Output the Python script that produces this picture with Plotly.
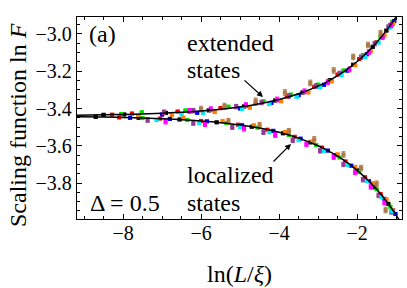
import plotly.graph_objects as go

# ---------------- data ----------------
series_names = ["black", "red", "green", "blue", "orange", "purple", "cyan", "magenta", "brown"]

# extended-states branch (upper)
ext_x_black = [-8.50, -7.97, -6.90, -5.80, -4.90, -4.10, -3.40, -2.70, -2.10, -1.60, -1.25]
ext_y_black = [-3.434, -3.432, -3.424, -3.410, -3.389, -3.357, -3.314, -3.248, -3.165, -3.069, -2.982]
ext_x_red = [-8.28, -7.77, -6.60, -5.50, -4.60, -3.80, -3.10, -2.50, -1.95, -1.50, -1.15]
ext_y_red = [-3.433, -3.427, -3.416, -3.398, -3.373, -3.335, -3.284, -3.218, -3.135, -3.044, -2.952]
ext_x_green = [-8.05, -7.52, -6.40, -5.30, -4.40, -3.70, -3.00, -2.35, -1.85, -1.40, -1.10]
ext_y_green = [-3.430, -3.420, -3.410, -3.390, -3.361, -3.325, -3.272, -3.196, -3.113, -3.015, -2.935]
ext_x_blue = [-7.00, -6.10, -5.00, -4.20, -3.50, -2.85, -2.25, -1.75, -1.35, -1.05]
ext_y_blue = [-3.433, -3.423, -3.400, -3.370, -3.329, -3.273, -3.197, -3.109, -3.016, -2.931]
ext_x_orange = [-6.75, -5.65, -4.75, -3.95, -3.25, -2.65, -2.05, -1.65, -1.30, -1.08]
ext_y_orange = [-3.435, -3.419, -3.396, -3.361, -3.314, -3.254, -3.168, -3.092, -3.007, -2.945]
ext_x_purple = [-6.95, -6.20, -5.10, -4.45, -3.75, -3.05, -2.45, -1.90, -1.55, -1.20]
ext_y_purple = [-3.420, -3.412, -3.390, -3.368, -3.333, -3.279, -3.212, -3.125, -3.052, -2.963]
ext_x_cyan = [-6.50, -5.95, -4.95, -4.25, -3.55, -2.95, -2.40, -1.80, -1.45, -1.15]
ext_y_cyan = [-3.432, -3.425, -3.402, -3.376, -3.337, -3.287, -3.222, -3.123, -3.046, -2.965]
ext_x_magenta = [-6.30, -5.75, -4.85, -4.05, -3.35, -2.75, -2.20, -1.70, -1.35, -1.12]
ext_y_magenta = [-3.413, -3.404, -3.382, -3.352, -3.308, -3.258, -3.190, -3.098, -3.017, -2.952]
ext_x_brown = [-6.00, -5.40, -4.60, -3.85, -3.20, -2.60, -2.10, -1.72, -1.40]
ext_y_brown = [-3.403, -3.387, -3.359, -3.314, -3.263, -3.196, -3.123, -3.059, -2.996]

# localized-states branch (lower)
loc_x_black = [-8.70, -7.60, -6.55, -5.60, -4.70, -3.90, -3.20, -2.55, -2.00, -1.55, -1.20]
loc_y_black = [-3.445, -3.450, -3.459, -3.474, -3.498, -3.533, -3.582, -3.650, -3.732, -3.823, -3.912]
loc_x_red = [-8.10, -7.05, -6.00, -5.05, -4.30, -3.60, -2.90, -2.30, -1.80, -1.40, -1.08]
loc_y_red = [-3.448, -3.454, -3.467, -3.487, -3.514, -3.552, -3.610, -3.684, -3.769, -3.859, -3.947]
loc_x_green = [-7.50, -6.35, -5.35, -4.55, -3.75, -3.05, -2.45, -1.95, -1.50, -1.15]
loc_y_green = [-3.451, -3.462, -3.479, -3.503, -3.542, -3.596, -3.663, -3.741, -3.834, -3.927]
loc_x_blue = [-7.82, -6.80, -5.85, -4.95, -4.15, -3.45, -2.75, -2.15, -1.70, -1.30, -1.02]
loc_y_blue = [-3.450, -3.456, -3.469, -3.490, -3.520, -3.562, -3.626, -3.707, -3.790, -3.885, -3.966]
loc_x_orange = [-7.61, -6.45, -5.45, -4.65, -3.85, -3.15, -2.50, -2.05, -1.60, -1.25]
loc_y_orange = [-3.442, -3.450, -3.467, -3.490, -3.526, -3.577, -3.646, -3.714, -3.801, -3.888]
loc_x_purple = [-7.37, -6.20, -5.20, -4.40, -3.65, -2.95, -2.35, -1.85, -1.45, -1.12]
loc_y_purple = [-3.462, -3.478, -3.500, -3.527, -3.570, -3.627, -3.700, -3.782, -3.866, -3.955]
loc_x_cyan = [-7.14, -6.05, -5.00, -4.25, -3.50, -2.85, -2.25, -1.75, -1.38, -1.10]
loc_y_cyan = [-3.462, -3.477, -3.500, -3.527, -3.570, -3.627, -3.703, -3.790, -3.876, -3.952]
loc_x_magenta = [-6.91, -5.90, -4.90, -4.10, -3.30, -2.60, -2.05, -1.65, -1.30]
loc_y_magenta = [-3.470, -3.484, -3.508, -3.542, -3.592, -3.660, -3.742, -3.820, -3.905]
loc_x_brown = [-5.30, -4.50, -3.75, -3.10, -2.35, -1.90, -1.50, -1.27]
loc_y_brown = [-3.468, -3.490, -3.522, -3.566, -3.647, -3.720, -3.804, -3.945]

# error bar half-widths per series
series_err = [0.003, 0.003, 0.003, 0.003, 0.004, 0.012, 0.005, 0.013, 0.015]

# fitted scaling curves
curve_x = [-9.2, -8.5, -8.0, -7.5, -7.0, -6.5, -6.0, -5.5, -5.0, -4.5, -4.0, -3.5,
           -3.0, -2.75, -2.5, -2.25, -2.0, -1.75, -1.5, -1.25, -1.0, -0.85]
curve_ext = [-3.436, -3.434, -3.432, -3.429, -3.425, -3.420, -3.413, -3.404, -3.392, -3.375,
             -3.352, -3.321, -3.280, -3.254, -3.224, -3.189, -3.148, -3.101, -3.046, -2.982,
             -2.908, -2.858]
curve_loc = [-3.444, -3.446, -3.448, -3.451, -3.455, -3.460, -3.467, -3.476, -3.488, -3.505,
             -3.528, -3.559, -3.600, -3.626, -3.656, -3.691, -3.732, -3.779, -3.834, -3.898,
             -3.972, -4.022]

x_ticks = [-8, -6, -4, -2]
y_ticks = [-3.0, -3.2, -3.4, -3.6, -3.8]

# ---------------- styles ----------------
colors = {"black": "#000000", "red": "#ff0000", "green": "#00e000", "blue": "#0000ff",
          "orange": "#ff8000", "purple": "#943a94", "cyan": "#00eaff",
          "magenta": "#ff00ff", "brown": "#b07a45"}
FONT = "Liberation Serif"

W, H = 407, 288
L, R, T, B = 77, 5, 17, 69
pw, ph = W - L - R, H - T - B


def px(xp):
    return (xp - L) / pw


def py(yp):
    return (H - B - yp) / ph


g = globals()
fig = go.Figure()
for branch in ["ext", "loc"]:
    for i, name in enumerate(series_names):
        xs = g[f"{branch}_x_{name}"]
        ys = g[f"{branch}_y_{name}"]
        fig.add_trace(go.Scatter(
            x=xs, y=ys, mode="markers",
            marker=dict(symbol="square", size=4.2, color=colors[name], line=dict(width=0)),
            error_y=dict(type="constant", value=series_err[i], color=colors[name],
                         thickness=1, width=2),
            showlegend=False, hoverinfo="skip"))

for cy in (curve_ext, curve_loc):
    fig.add_trace(go.Scatter(x=curve_x, y=cy, mode="lines", line=dict(color="black", width=1.5, shape="spline"),
                             showlegend=False, hoverinfo="skip"))

axis_common = dict(showline=True, linecolor="black", linewidth=1.3, mirror="allticks",
                   ticks="inside", ticklen=5, tickwidth=1, tickcolor="black",
                   showgrid=False, zeroline=False, automargin=False,
                   tickfont=dict(family=FONT, size=20, color="black"))

fig.update_xaxes(range=[-9.18, -0.85], tickmode="array", tickvals=x_ticks, ticklabelstandoff=-4,
                 minor=dict(dtick=0.5, tick0=0, ticks="inside", ticklen=3, tickcolor="black", showgrid=False),
                 **axis_common)
fig.update_yaxes(range=[-3.993, -2.909], tickmode="array", tickvals=y_ticks, tickformat=".1f",
                 minor=dict(dtick=0.05, tick0=-3.0, ticks="inside", ticklen=3, tickcolor="black", showgrid=False),
                 **axis_common)

annotations = [
    dict(text="Scaling function ln <i>F</i>", x=px(18), y=py(125), textangle=-90),
    dict(text="ln(<i>L</i>/<i>ξ</i>)", x=px(240), y=py(274)),
    dict(text="(a)", x=px(87), y=py(34), xanchor="left"),
    dict(text="extended", x=px(185), y=py(43), xanchor="left"),
    dict(text="states", x=px(185), y=py(70), xanchor="left"),
    dict(text="localized", x=px(185), y=py(175), xanchor="left"),
    dict(text="states", x=px(185), y=py(203), xanchor="left"),
    dict(text="Δ = 0.5", x=px(88), y=py(203), xanchor="left"),
]
anns = []
for a in annotations:
    d = dict(xref="paper", yref="paper", showarrow=False,
             font=dict(family=FONT, size=24, color="black"),
             yanchor="middle", xanchor="center")
    d.update(a)
    anns.append(d)

# arrows
anns.append(dict(xref="paper", yref="paper", x=px(263), y=py(97), ax=-20, ay=-18, text="",
                 showarrow=True, arrowhead=2, arrowsize=1, arrowwidth=1.2, arrowcolor="black", standoff=0))
anns.append(dict(xref="paper", yref="paper", x=px(291), y=py(144), ax=-19, ay=19, text="",
                 showarrow=True, arrowhead=2, arrowsize=1, arrowwidth=1.2, arrowcolor="black", standoff=0))

fig.update_layout(width=W, height=H, margin=dict(l=L, r=R, t=T, b=B),
                  paper_bgcolor="white", plot_bgcolor="white",
                  annotations=anns, font=dict(family=FONT, color="black"))

fig.write_html("out.html", config={"displayModeBar": False},
               post_script="document.body.style.margin='0';document.body.style.padding='0';"
                           "document.documentElement.style.margin='0';document.body.style.overflow='hidden';")
